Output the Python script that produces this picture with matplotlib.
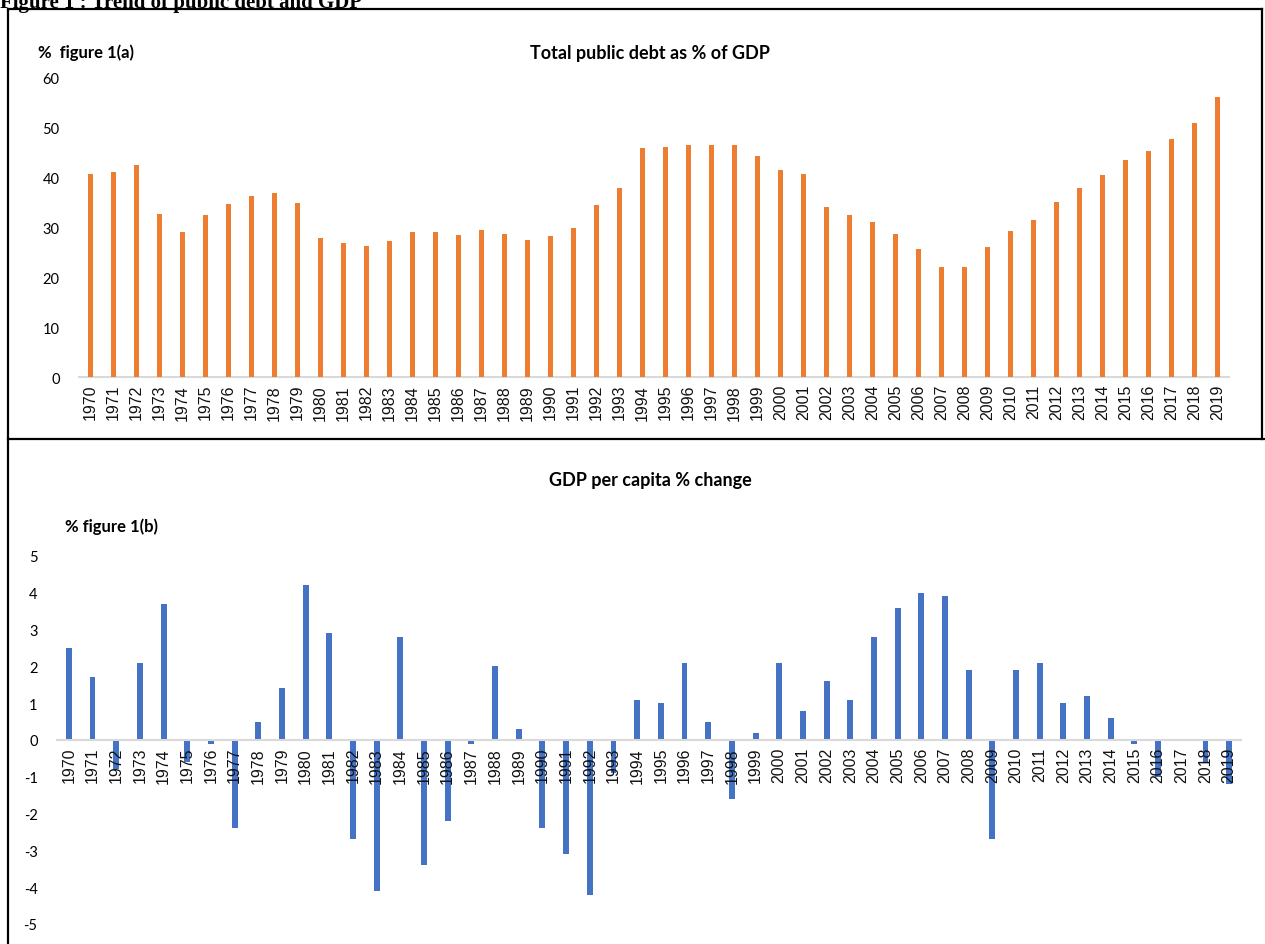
import matplotlib
matplotlib.use("Agg")
import matplotlib.pyplot as plt
from matplotlib.lines import Line2D
import numpy as np

years = [str(y) for y in range(1970, 2020)]

debt_pct_gdp = [40.7, 41.1, 42.5, 32.7, 29.0, 32.5, 34.7, 36.3, 36.9, 34.9,
                27.9, 26.9, 26.2, 27.2, 29.1, 29.1, 28.5, 29.5, 28.7, 27.5,
                28.3, 29.9, 34.4, 37.9, 45.9, 46.1, 46.5, 46.5, 46.4, 44.3,
                41.5, 40.7, 34.0, 32.5, 31.1, 28.7, 25.7, 22.1, 22.1, 26.1,
                29.3, 31.5, 35.1, 37.9, 40.5, 43.5, 45.3, 47.7, 50.9, 56.1]

gdp_pc_change = [2.5, 1.7, -0.8, 2.1, 3.7, -0.6, -0.1, -2.4, 0.5, 1.4,
                 4.2, 2.9, -2.7, -4.1, 2.8, -3.4, -2.2, -0.1, 2.0, 0.3,
                 -2.4, -3.1, -4.2, -0.9, 1.1, 1.0, 2.1, 0.5, -1.6, 0.2,
                 2.1, 0.8, 1.6, 1.1, 2.8, 3.6, 4.0, 3.9, 1.9, -2.7,
                 1.9, 2.1, 1.0, 1.2, 0.6, -0.1, -1.0, 0.0, -0.6, -1.2]

top_yticks = [0, 10, 20, 30, 40, 50, 60]
bot_yticks = [-5, -4, -3, -2, -1, 0, 1, 2, 3, 4, 5]

W, H = 1265, 945
fig = plt.figure(figsize=(W / 100, H / 100), dpi=100)
fig.patch.set_facecolor("white")

SANS = ["Lato", "DejaVu Sans"]
TICKF = ["Liberation Sans", "DejaVu Sans"]


def rect(l, t, r, b):
    return [l / W, 1 - b / H, (r - l) / W, (b - t) / H]


def fx(x):
    return x / W


def fy(y):
    return 1 - y / H


def style(ax, yticks):
    x = np.arange(len(years))
    for s in ["top", "right", "left"]:
        ax.spines[s].set_visible(False)
    ax.spines["bottom"].set_position(("data", 0))
    ax.spines["bottom"].set_color("#D9D9D9")
    ax.spines["bottom"].set_linewidth(1.5)
    ax.set_xlim(-0.5, len(years) - 0.5)
    ax.set_xticks(x)
    ax.set_xticklabels(years, rotation=90, fontsize=11.5, family=TICKF, color="#111111")
    ax.set_yticks(yticks)
    ax.set_yticklabels([str(v) for v in yticks], fontsize=10.5, family=SANS, color="#000000")
    ax.tick_params(axis="both", length=0)
    ax.tick_params(axis="x", pad=5)
    ax.tick_params(axis="y", pad=14)
    ax.set_facecolor("none")


# Top panel
ax1 = fig.add_axes(rect(79, 78, 1229, 378))
ax1.bar(np.arange(len(years)), debt_pct_gdp, width=0.25, color="#ED7D31", zorder=3)
ax1.set_ylim(0, 60)
style(ax1, top_yticks)
fig.text(fx(650), fy(53), "Total public debt as % of GDP", ha="center", va="center",
         fontsize=13, fontweight="bold", family=SANS)
fig.text(fx(38), fy(53), "%  figure 1(a)", ha="left", va="center",
         fontsize=12, fontweight="bold", family=SANS)

# Bottom panel
ax2 = fig.add_axes(rect(57, 557, 1241, 925))
ax2.bar(np.arange(len(years)), gdp_pc_change, width=0.25, color="#4472C4", zorder=1)
ax2.set_ylim(-5, 5)
style(ax2, bot_yticks)
for lab in ax2.get_xticklabels():
    lab.set_zorder(5)
fig.text(fx(650), fy(481), "GDP per capita % change", ha="center", va="center",
         fontsize=13, fontweight="bold", family=SANS)
fig.text(fx(65), fy(527), "% figure 1(b)", ha="left", va="center",
         fontsize=12, fontweight="bold", family=SANS)

# Table frame
lk = dict(color="black", linewidth=1.6, transform=fig.transFigure)
fig.add_artist(Line2D([fx(8), fx(1262)], [fy(10), fy(10)], **lk))
fig.add_artist(Line2D([fx(8), fx(8)], [fy(10), fy(945)], **lk))
fig.add_artist(Line2D([fx(8), fx(1265)], [fy(440), fy(440)], **lk))
fig.add_artist(Line2D([fx(1262), fx(1262)], [fy(10), fy(440)], **lk))

# Heading at the very top (partly cut by the page edge, as in the source)
fig.text(fx(0), fy(8), "Figure 1 : Trend of public debt and GDP", ha="left", va="baseline",
         fontsize=15, fontweight="bold", family=["Liberation Serif", "DejaVu Serif"])

fig.savefig("out.png", dpi=100, facecolor="white")
